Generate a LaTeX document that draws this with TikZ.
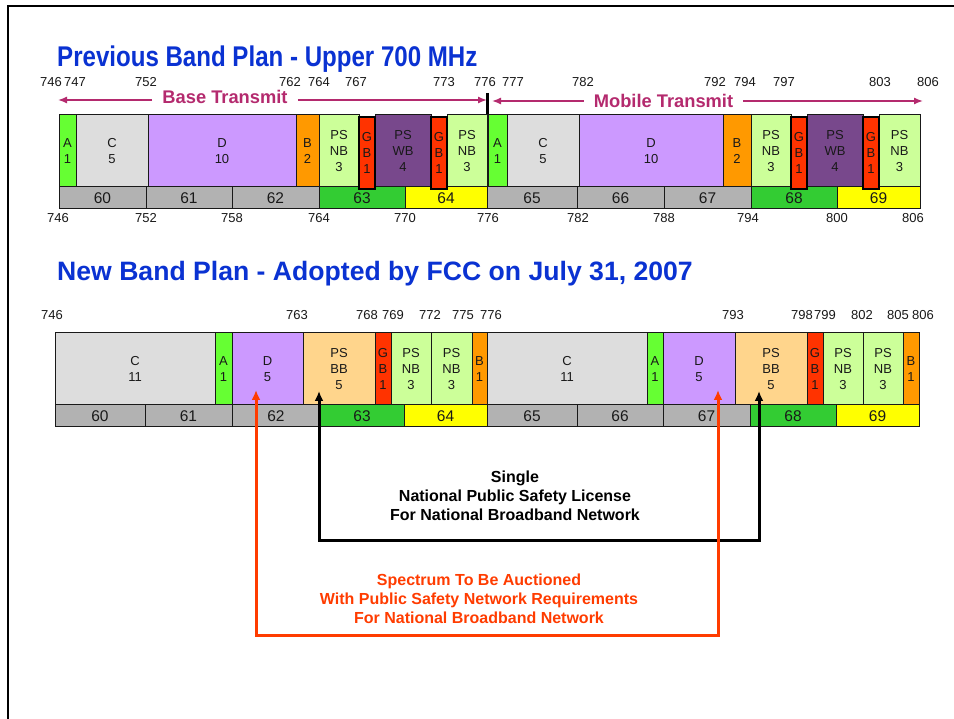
\documentclass[tikz,border=0pt]{standalone}
\usepackage{fontspec}
\setmainfont{Liberation Sans}
\usepackage{graphicx}
\usetikzlibrary{arrows.meta}
\definecolor{cA}{RGB}{102,255,51}
\definecolor{cC}{RGB}{221,221,221}
\definecolor{cD}{RGB}{204,153,255}
\definecolor{cB}{RGB}{255,153,0}
\definecolor{cNB}{RGB}{204,255,153}
\definecolor{cGB}{RGB}{255,51,0}
\definecolor{cWB}{RGB}{120,72,140}
\definecolor{cBB}{RGB}{255,213,140}
\definecolor{cGray}{RGB}{178,178,178}
\definecolor{cGreen}{RGB}{51,204,51}
\definecolor{cYellow}{RGB}{255,255,0}
\definecolor{cMag}{RGB}{180,42,110}
\definecolor{cRed}{RGB}{255,60,0}
\definecolor{cBlue}{RGB}{10,50,210}
\newcommand\cellat[8]{%
  \pgfmathsetmacro\cellw{#4-#3}%
  \pgfmathsetmacro\cellh{#6-#5}%
  \pgfmathsetmacro\cellx{(#3+#4)/2}%
  \pgfmathsetmacro\celly{(#5+#6)/2}%
  \node[#1,fill=#7,minimum width=\cellw pt,minimum height=\cellh pt] (#2) at (\cellx,\celly) {#8};}
\tikzset{
  cellbox/.style={draw=black!90,line width=1pt,inner sep=0pt,align=center,
    font=\fontsize{13}{15.8}\selectfont,text=black!90},
  numbox/.style={cellbox,font=\fontsize{15.5}{18}\selectfont},
  gbbox/.style={cellbox,draw=black,line width=1.8pt},
  freq/.style={inner sep=0pt,font=\fontsize{13}{15}\selectfont,text=black!90},
  txlabel/.style={inner ysep=0pt,inner xsep=10pt,font=\bfseries\fontsize{18.3}{20}\selectfont,text=cMag},
  txarrow/.style={draw=cMag,line width=1.4pt,-{Latex[length=9pt,width=7pt]}},
  bkline/.style={draw=black,line width=3pt,{Latex[length=10pt,width=9pt]}-{Latex[length=10pt,width=9pt]}},
  rdline/.style={draw=cRed,line width=3pt,{Latex[length=10pt,width=9pt]}-{Latex[length=10pt,width=9pt]}},
  bktext/.style={align=center,inner sep=0pt,font=\bfseries\fontsize{16}{19}\selectfont,text=black},
  rdtext/.style={bktext,text=cRed},
  titlestyle/.style={anchor=base west,inner sep=0pt,text=cBlue}
}
\begin{document}
\begin{tikzpicture}[x=1pt,y=-1pt]
\useasboundingbox (0,0) rectangle (954,719);
\fill[white] (0,0) rectangle (954,719);
\draw[line width=2.5pt] (8,719) -- (8,6) -- (954,6);

% titles
\node[titlestyle,font=\bfseries\fontsize{28.5}{32}\selectfont] (title1) at (57,67)
  {\scalebox{0.845}[1]{Previous Band Plan - Upper 700 MHz}};
\node[titlestyle,font=\bfseries\fontsize{26.6}{30}\selectfont] (title2) at (57,281)
  {New Band Plan - Adopted by FCC on July 31, 2007};

% ---------- previous plan ----------
\foreach \v/\xx in {746/51,747/75,752/146,762/290,764/319,767/356,773/444,776/485,777/513,782/583,792/715,794/745,797/784,803/880,806/928}
  \node[freq] (ta\v) at (\xx,82) {\v};
\foreach \v/\xx [count=\i] in {746/58,752/146,758/232,764/319,770/405,776/488,782/578,788/664,794/748,800/837,806/913}
  \node[freq] (tb\i) at (\xx,218) {\v};

% lower row
\cellat{numbox}{p60}{59}{146}{187}{209}{cGray}{60}
\cellat{numbox}{p61}{146}{232}{187}{209}{cGray}{61}
\cellat{numbox}{p62}{232}{319}{187}{209}{cGray}{62}
\cellat{numbox}{p63}{319}{405}{187}{209}{cGreen}{63}
\cellat{numbox}{p64}{405}{487}{187}{209}{cYellow}{64}
\cellat{numbox}{p65}{487}{577}{187}{209}{cGray}{65}
\cellat{numbox}{p66}{577}{664}{187}{209}{cGray}{66}
\cellat{numbox}{p67}{664}{751}{187}{209}{cGray}{67}
\cellat{numbox}{p68}{751}{837}{187}{209}{cGreen}{68}
\cellat{numbox}{p69}{837}{920}{187}{209}{cYellow}{69}

% upper row, left half
\cellat{cellbox}{pA1}{59}{76}{115}{187}{cA}{A\\1}
\cellat{cellbox}{pC1}{76}{148}{115}{187}{cC}{C\\5}
\cellat{cellbox}{pD1}{148}{296}{115}{187}{cD}{D\\10}
\cellat{cellbox}{pB1}{296}{319}{115}{187}{cB}{B\\2}
\cellat{cellbox}{pNB1}{319}{359}{115}{187}{cNB}{PS\\NB\\3}
\cellat{cellbox}{pWB1}{375}{431}{115}{187}{cWB}{PS\\WB\\4}
\cellat{cellbox}{pNB2}{447}{487}{115}{187}{cNB}{PS\\NB\\3}
\cellat{gbbox}{pGB1}{359}{375}{117}{189}{cGB}{G\\B\\1}
\cellat{gbbox}{pGB2}{431}{447}{117}{189}{cGB}{G\\B\\1}
% upper row, right half
\cellat{cellbox}{pA2}{488}{507}{115}{187}{cA}{A\\1}
\cellat{cellbox}{pC2}{507}{579}{115}{187}{cC}{C\\5}
\cellat{cellbox}{pD2}{579}{723}{115}{187}{cD}{D\\10}
\cellat{cellbox}{pB2}{723}{751}{115}{187}{cB}{B\\2}
\cellat{cellbox}{pNB3}{751}{791}{115}{187}{cNB}{PS\\NB\\3}
\cellat{cellbox}{pWB2}{807}{863}{115}{187}{cWB}{PS\\WB\\4}
\cellat{cellbox}{pNB4}{879}{920}{115}{187}{cNB}{PS\\NB\\3}
\cellat{gbbox}{pGB3}{791}{807}{117}{189}{cGB}{G\\B\\1}
\cellat{gbbox}{pGB4}{863}{879}{117}{189}{cGB}{G\\B\\1}

% transmit arrows
\node[txlabel] (bt) at (225,97) {Base Transmit};
\node[txlabel] (mt) at (663.5,101) {Mobile Transmit};
\coordinate (btL) at (58,100);
\coordinate (btR) at (487,100);
\coordinate (mtL) at (492,101);
\coordinate (mtR) at (923,101);
\draw[txarrow] (btL -| bt.west) -- (btL);
\draw[txarrow] (btR -| bt.east) -- (btR);
\draw[txarrow] (mtL -| mt.west) -- (mtL);
\draw[txarrow] (mtR -| mt.east) -- (mtR);
\coordinate (tickTop) at (487.5,93);
\draw[line width=3pt] (tickTop) -- (tickTop |- pNB2.north);

% ---------- new plan ----------
\foreach \v/\xx in {746/52,763/297,768/367,769/393,772/430,775/463,776/491,793/733,798/802,799/825,802/862,805/898,806/923}
  \node[freq] (tc\v) at (\xx,315) {\v};

\cellat{numbox}{n60}{55}{145}{405}{427}{cGray}{60}
\cellat{numbox}{n61}{145}{232}{405}{427}{cGray}{61}
\cellat{numbox}{n62}{232}{320}{405}{427}{cGray}{62}
\cellat{numbox}{n63}{320}{404}{405}{427}{cGreen}{63}
\cellat{numbox}{n64}{404}{487}{405}{427}{cYellow}{64}
\cellat{numbox}{n65}{487}{577}{405}{427}{cGray}{65}
\cellat{numbox}{n66}{577}{663}{405}{427}{cGray}{66}
\cellat{numbox}{n67}{663}{750}{405}{427}{cGray}{67}
\cellat{numbox}{n68}{750}{836}{405}{427}{cGreen}{68}
\cellat{numbox}{n69}{836}{919}{405}{427}{cYellow}{69}

\cellat{cellbox}{nC1}{55}{215}{333}{405}{cC}{C\\11}
\cellat{cellbox}{nA1}{215}{232}{333}{405}{cA}{A\\1}
\cellat{cellbox}{nD1}{232}{303}{333}{405}{cD}{D\\5}
\cellat{cellbox}{nBB1}{303}{375}{333}{405}{cBB}{PS\\BB\\5}
\cellat{cellbox}{nGB1}{375}{391}{333}{405}{cGB}{G\\B\\1}
\cellat{cellbox}{nNB1}{391}{431}{333}{405}{cNB}{PS\\NB\\3}
\cellat{cellbox}{nNB2}{431}{472}{333}{405}{cNB}{PS\\NB\\3}
\cellat{cellbox}{nB1}{472}{487}{333}{405}{cB}{B\\1}
\cellat{cellbox}{nC2}{487}{647}{333}{405}{cC}{C\\11}
\cellat{cellbox}{nA2}{647}{663}{333}{405}{cA}{A\\1}
\cellat{cellbox}{nD2}{663}{735}{333}{405}{cD}{D\\5}
\cellat{cellbox}{nBB2}{735}{807}{333}{405}{cBB}{PS\\BB\\5}
\cellat{cellbox}{nGB2}{807}{823}{333}{405}{cGB}{G\\B\\1}
\cellat{cellbox}{nNB3}{823}{863}{333}{405}{cNB}{PS\\NB\\3}
\cellat{cellbox}{nNB4}{863}{903}{333}{405}{cNB}{PS\\NB\\3}
\cellat{cellbox}{nB2}{903}{919}{333}{405}{cB}{B\\1}

% licence connectors
\node[bktext] (bktxt) at (515,496) {Single\\National Public Safety License\\For National Broadband Network};
\node[rdtext] (rdtxt) at (479,599) {Spectrum To Be Auctioned\\With Public Safety Network Requirements\\For National Broadband Network};
\coordinate (bk1) at (319,391);
\coordinate (bk2) at (759,391);
\coordinate (bkBot) at (540,540);
\coordinate (rd1) at (256,390);
\coordinate (rd2) at (718,390);
\coordinate (rdBot) at (480,635);
\draw[bkline] (bk1) |- (bkBot) -| (bk2);
\draw[rdline] (rd1) |- (rdBot) -| (rd2);
\end{tikzpicture}
\end{document}
